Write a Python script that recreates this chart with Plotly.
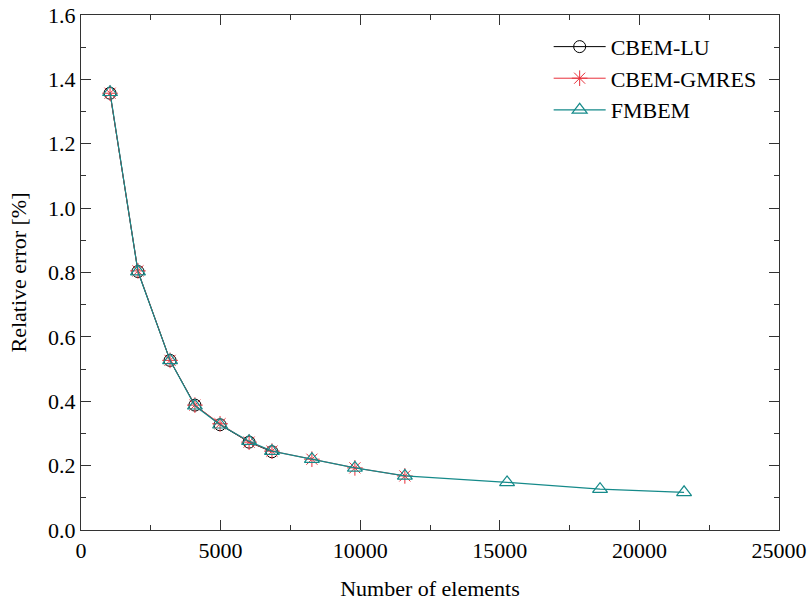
import plotly.graph_objects as go

lu_x = [1040, 2040, 3190, 4080, 4980, 6020, 6840]
lu_y = [1.357, 0.803, 0.527, 0.388, 0.327, 0.273, 0.243]
gm_x = [1040, 2040, 3190, 4080, 4980, 6020, 6840, 8270, 9810, 11600]
gm_y = [1.357, 0.805, 0.527, 0.388, 0.330, 0.273, 0.245, 0.220, 0.193, 0.168]
fm_x = [1040, 2040, 3190, 4080, 4980, 6020, 6840, 8270, 9810, 11600, 15260, 18590, 21600]
fm_y = [1.360, 0.803, 0.527, 0.386, 0.327, 0.276, 0.245, 0.220, 0.193, 0.168, 0.148, 0.127, 0.117]

FONT = "Liberation Serif, Times New Roman, serif"
FS = 22
fig = go.Figure()
fig.add_trace(go.Scatter(x=lu_x, y=lu_y, name="CBEM-LU", mode="lines+markers",
                         line=dict(color="black", width=1),
                         marker=dict(symbol="circle-open", size=12, color="black", line=dict(width=1))))
fig.add_trace(go.Scatter(x=gm_x, y=gm_y, name="CBEM-GMRES", mode="lines+markers",
                         line=dict(color="#e8303a", width=1),
                         marker=dict(symbol="asterisk-open", size=13, color="#e8303a", line=dict(width=1, color="#e8303a"))))
fig.add_trace(go.Scatter(x=fm_x, y=fm_y, name="FMBEM", mode="lines+markers",
                         line=dict(color="#158a8a", width=1.2),
                         marker=dict(symbol="triangle-up-open", size=13, color="#158a8a", line=dict(width=1.2))))

axis_common = dict(showgrid=False, zeroline=False, showline=True, linecolor="#333333", linewidth=1.2,
                   mirror="allticks", ticks="inside", ticklen=10, tickcolor="#333333", tickwidth=1.2,
                   automargin=False, ticklabeloverflow="allow",
                   tickfont=dict(family=FONT, size=FS, color="black"))
fig.update_xaxes(range=[0, 25000], dtick=5000, tickformat="d",
                 minor=dict(ticks="inside", ticklen=5, dtick=2500, tickcolor="#333333", tickwidth=1.2),
                 title=dict(text="Number of elements", font=dict(family=FONT, size=FS, color="black"), standoff=21),
                 **axis_common)
fig.update_yaxes(range=[0, 1.6], dtick=0.2, tickformat=".1f",
                 minor=dict(ticks="inside", ticklen=5, dtick=0.1, tickcolor="#333333", tickwidth=1.2),
                 title=dict(text="Relative error [%]", font=dict(family=FONT, size=FS, color="black"), standoff=15),
                 **axis_common)
fig.update_layout(width=809, height=601, margin=dict(l=81, r=30, t=15, b=71),
                  plot_bgcolor="white", paper_bgcolor="white", showlegend=True,
                  legend=dict(x=0.67, y=0.979, xanchor="left", yanchor="top", bgcolor="rgba(0,0,0,0)",
                              font=dict(family=FONT, size=FS, color="black"), itemwidth=52, tracegroupgap=0))
fig.write_html("out.html", config={"displayModeBar": False},
               post_script="document.body.style.margin='0';document.body.style.overflow='hidden';")
